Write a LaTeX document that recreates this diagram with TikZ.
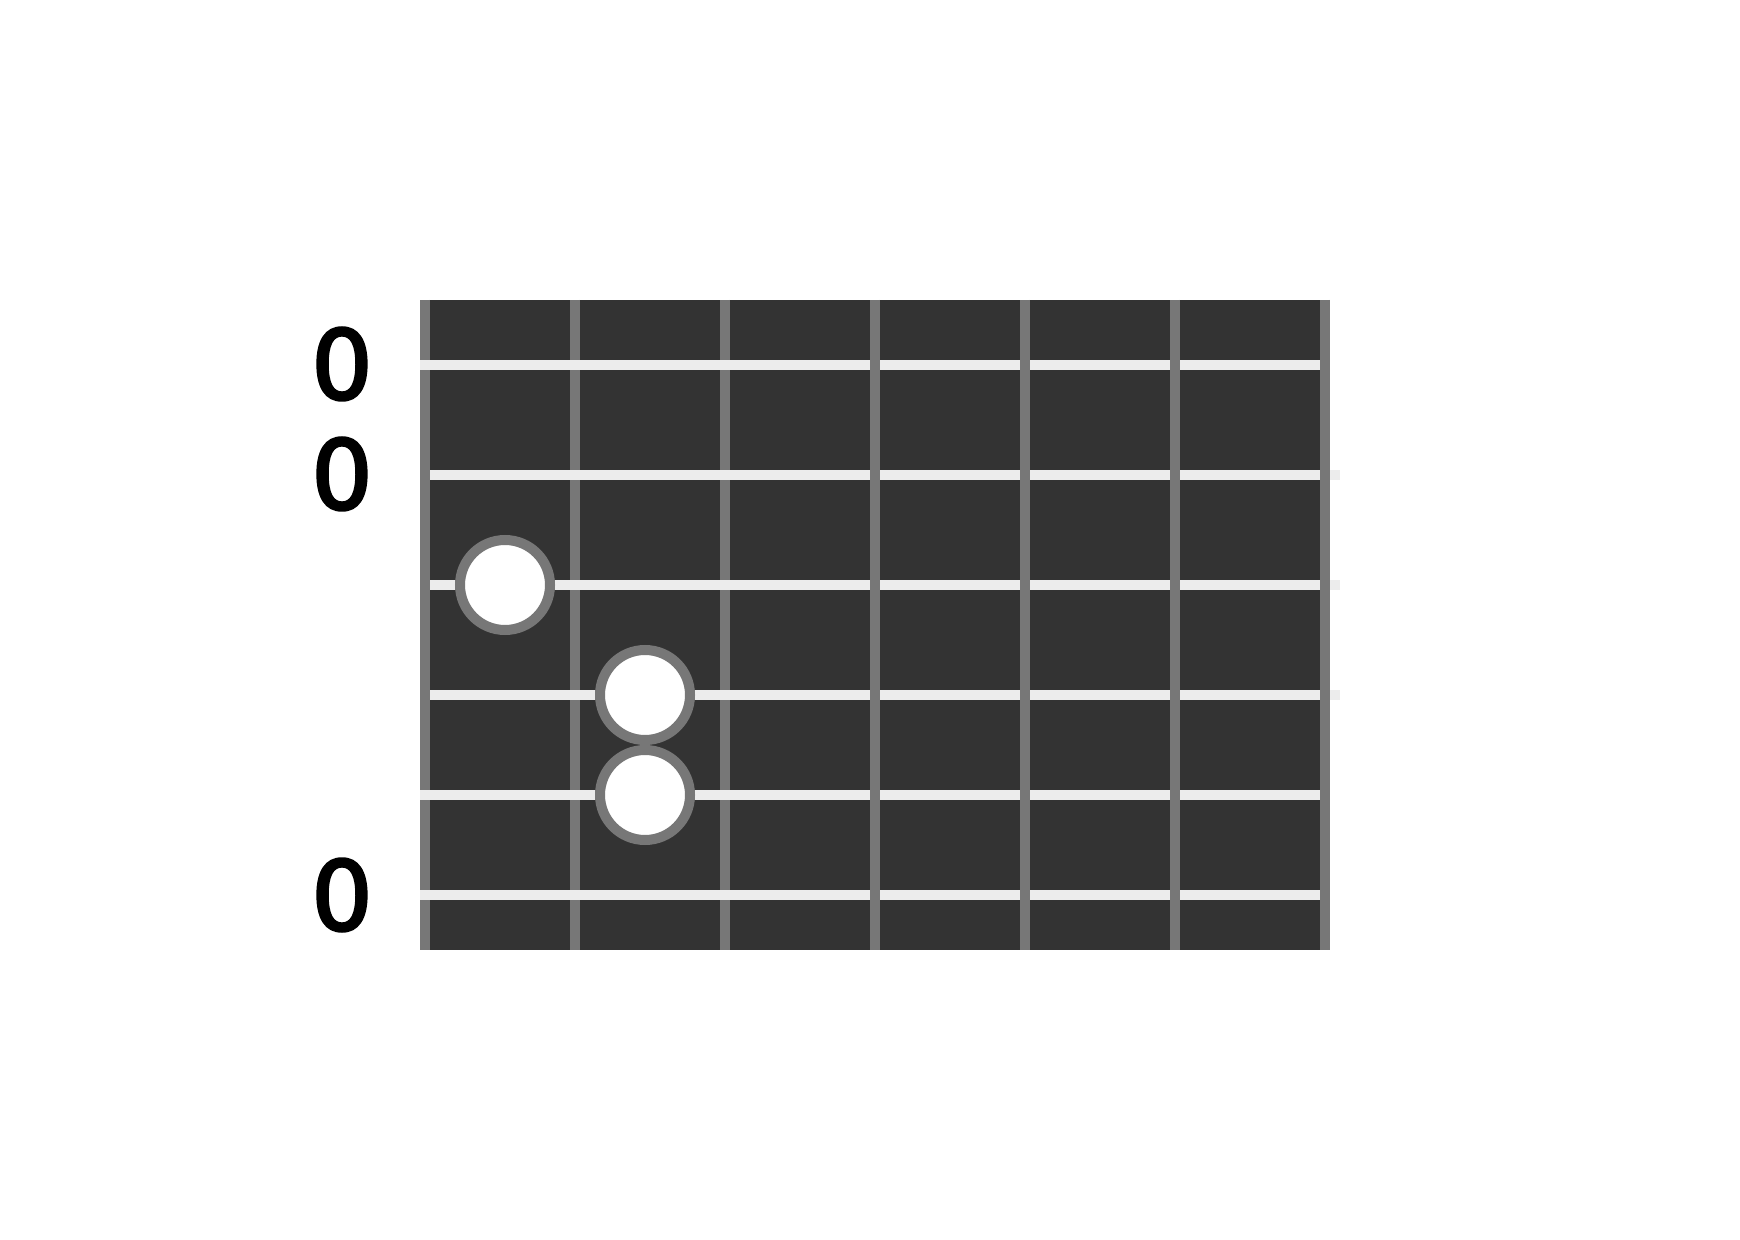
\documentclass[tikz,border=0pt]{standalone}
\usepackage{fontspec}
\setmainfont{DejaVu Sans}
\newfontfamily\labelfont[FakeBold=3]{DejaVu Sans}
\usepackage{tikz}
\usetikzlibrary{positioning, calc}
\definecolor{boardgray}{RGB}{51, 51, 51}
\definecolor{fretgray}{RGB}{119, 119, 119}
\definecolor{stringwhite}{RGB}{236, 236, 236}

\begin{document}
\begin{tikzpicture}[x=0.5pt, y=-0.5pt,
    fret/.style={line width=5pt, fretgray},
    string/.style={line width=5pt, stringwhite},
    finger/.style={circle, draw=fretgray, fill=white, line width=5pt, minimum size=45pt, inner sep=0pt},
    openlabel/.style={font=\labelfont\fontsize{48}{58}\selectfont, text=black, inner sep=0pt}]
    % Canvas
    \useasboundingbox[fill=white] (0, 0) rectangle (1740, 1240);

    % Fretboard
    \fill[boardgray] (420, 300) rectangle (1330, 950);

    % Nut and first frets (under the strings)
    \foreach \x in {425, 575, 725}
        \draw[fret] (\x, 300) -- (\x, 950);

    % Strings 2-4 start behind the nut
    \foreach \y in {475, 585, 695}
        \draw[string] (430, \y) -- (1340, \y);
    % Strings 1, 5, 6 run over the nut
    \foreach \y in {365, 795, 895}
        \draw[string] (420, \y) -- (1320, \y);

    % Upper frets (over the strings)
    \foreach \x in {875, 1025, 1175, 1325}
        \draw[fret] (\x, 300) -- (\x, 950);

    % Fingered notes
    \node[finger] (fing3) at (505, 585) {};
    \node[finger] (fing4) at (645, 695) {};
    \node[finger] (fing5) at (645, 795) {};

    % Open strings
    \node[openlabel] (open1) at (342, 364) {0};
    \node[openlabel] (open2) at (342, 474) {0};
    \node[openlabel] (open6) at (342, 895) {0};
\end{tikzpicture}
\end{document}
